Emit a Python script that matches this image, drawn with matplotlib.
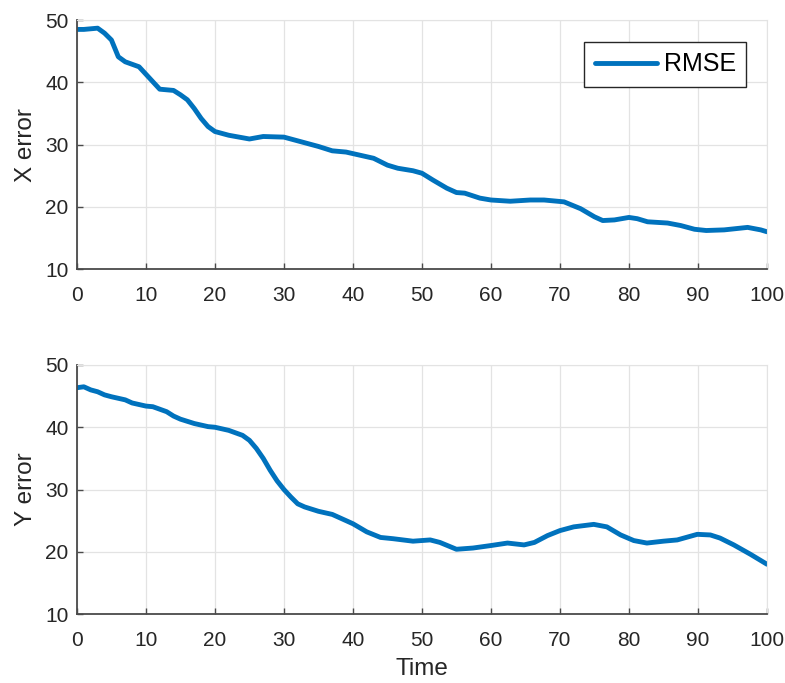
import matplotlib
matplotlib.use("Agg")
import matplotlib.pyplot as plt
import numpy as np

plt.rcParams['font.family'] = ['Liberation Sans', 'DejaVu Sans']

# X error (top panel)
tx = [0, 1, 3, 4, 5, 6, 7, 9, 10, 11, 12, 14, 15, 16, 17, 18, 19, 20, 22, 25, 27, 30,
      32, 35, 37, 39, 41, 43, 45, 46.5, 48.7, 50, 51.6, 53.6, 55, 56.2, 58.4, 60, 62.8,
      65.7, 67.7, 70.6, 73, 75, 76.2, 77.9, 80, 81.2, 82.7, 85.6, 87.5, 89.5, 91.2,
      93.8, 97.2, 99.1, 100]
x_err = [48.5, 48.5, 48.7, 47.9, 46.8, 44.1, 43.3, 42.5, 41.3, 40.1, 38.9, 38.7, 38.0,
         37.2, 35.8, 34.2, 32.9, 32.1, 31.5, 30.9, 31.3, 31.2, 30.6, 29.7, 29.0, 28.8,
         28.3, 27.8, 26.7, 26.2, 25.8, 25.4, 24.3, 23.0, 22.3, 22.2, 21.4, 21.1, 20.9,
         21.1, 21.1, 20.8, 19.7, 18.4, 17.8, 17.9, 18.3, 18.1, 17.6, 17.4, 17.0, 16.4,
         16.2, 16.3, 16.7, 16.3, 16.0]

# Y error (bottom panel)
ty = [0, 1, 2, 3, 4, 5, 7, 8, 10, 11, 12, 13, 14, 15, 17, 19, 20, 22, 24, 25, 26, 27,
      28, 29, 30, 31, 32, 33, 35, 37, 39, 40, 42, 44, 45.8, 48.7, 51.2, 52.6, 55, 57.4,
      60, 62.4, 64.8, 66.3, 68.2, 70, 72, 74.9, 76.8, 78.8, 80.7, 82.6, 85, 87, 89.9,
      91.8, 93.2, 95.2, 97.6, 100]
y_err = [46.35, 46.5, 46.0, 45.7, 45.2, 44.9, 44.4, 43.9, 43.4, 43.3, 42.9, 42.5, 41.8,
         41.3, 40.6, 40.1, 40.0, 39.5, 38.7, 37.9, 36.6, 35.0, 33.1, 31.4, 30.0, 28.8,
         27.7, 27.2, 26.5, 26.0, 25.0, 24.5, 23.2, 22.3, 22.1, 21.7, 21.9, 21.5, 20.4,
         20.6, 21.0, 21.4, 21.1, 21.5, 22.6, 23.4, 24.0, 24.4, 24.0, 22.7, 21.8, 21.4,
         21.7, 21.9, 22.8, 22.7, 22.2, 21.1, 19.6, 18.0]

xticks = list(range(0, 101, 10))
yticks = [10, 20, 30, 40, 50]

line_color = '#0072BD'
axis_color = '#4a4a4a'
grid_color = '#e3e3e3'
text_color = '#262626'

fig = plt.figure(figsize=(7.85, 6.83), dpi=100)
ax1 = fig.add_axes([0.098, 0.606, 0.879, 0.3646])
ax2 = fig.add_axes([0.098, 0.101, 0.879, 0.3646])

for ax, t, v, lab in [(ax1, tx, x_err, 'X error'), (ax2, ty, y_err, 'Y error')]:
    ax.plot(t, v, color=line_color, lw=3.5, label='RMSE', solid_capstyle='round')
    ax.set_xlim(0, 100)
    ax.set_ylim(10, 50)
    ax.set_xticks(xticks)
    ax.set_yticks(yticks)
    ax.grid(True, color=grid_color, lw=0.9)
    ax.set_axisbelow(True)
    for s in ['top', 'right']:
        ax.spines[s].set_color(grid_color)
    for s in ['left', 'bottom']:
        ax.spines[s].set_color(axis_color)
        ax.spines[s].set_linewidth(1.3)
    ax.tick_params(direction='in', length=4, width=1, colors=axis_color,
                   labelsize=15, labelcolor=text_color, top=False, right=False)
    ax.tick_params(axis='x', pad=12)
    ax.tick_params(axis='y', pad=6)
    ax.set_ylabel(lab, fontsize=17.5, color=text_color, labelpad=6)

ax2.set_xlabel('Time', fontsize=17.5, color=text_color, labelpad=6)

leg = ax1.legend(loc='upper right', bbox_to_anchor=(0.97, 0.912), borderaxespad=0,
                 fontsize=18, fancybox=False, handlelength=2.5, handletextpad=0.25,
                 borderpad=0.42, framealpha=1)
leg.get_frame().set_edgecolor(text_color)
leg.get_frame().set_linewidth(1.0)

fig.savefig('out.png', dpi=100)
